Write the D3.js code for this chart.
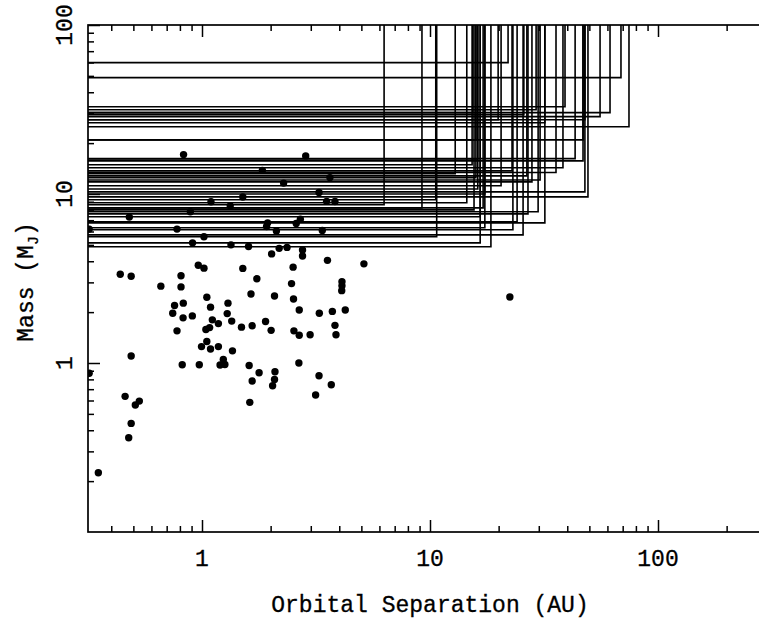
<!DOCTYPE html>
<html>
<head>
<meta charset="utf-8">
<script src="https://cdn.jsdelivr.net/npm/d3@7"></script>
<style>
  body { margin: 0; background: #fff; }
  text { font-family: "Liberation Mono", monospace; fill: #000; stroke: #000; stroke-width: 0.3; }
</style>
</head>
<body>
<div id="chart"></div>
<script>
// detected planets: separation (AU) and mass (M_J)
const dotSep = [0.83, 2.85, 1.84, 2.28, 3.64, 3.26, 3.52, 3.83, 1.51, 1.095,
    1.33, 0.889, 0.48, 1.94, 1.92, 2.70, 2.59, 2.12, 3.37, 0.32,
    0.777, 1.02, 0.909, 1.34, 1.60, 2.18, 2.36, 2.02, 2.76, 2.76,
    3.55, 0.963, 1.02, 1.51, 2.51, 5.13, 0.809, 0.438, 0.489, 1.74,
    0.66, 0.809, 2.47, 4.11, 4.11, 4.10, 1.64, 2.08, 2.52, 1.05,
    0.758, 0.828, 1.30, 1.09, 0.744, 0.826, 0.907, 1.29, 2.67, 3.27,
    3.73, 4.25, 1.11, 1.35, 1.18, 1.90, 0.777, 1.04, 1.08, 1.49,
    1.66, 2.01, 2.53, 2.67, 2.98, 3.83, 3.87, 1.05, 0.995, 1.09,
    1.18, 1.36, 1.24, 1.20, 1.26, 0.819, 0.973, 1.61, 1.78, 2.09,
    2.08, 2.04, 1.66, 2.66, 3.26, 3.69, 3.15, 1.62, 0.32, 0.489,
    0.46, 0.51, 0.531, 0.489, 0.477, 0.351, 22.4];
const dotMass = [17.1, 16.8, 13.8, 11.6, 12.5, 10.2, 9.05, 9.03, 9.59, 8.99,
    8.51, 7.85, 7.30, 6.75, 6.42, 7.10, 6.69, 6.05, 6.08, 6.2,
    6.2, 5.58, 5.14, 5.0, 4.89, 4.77, 4.83, 4.42, 4.67, 4.30,
    4.05, 3.79, 3.64, 3.63, 3.69, 3.86, 3.28, 3.35, 3.26, 3.15,
    2.85, 2.82, 2.95, 3.03, 2.86, 2.68, 2.56, 2.49, 2.39, 2.45,
    2.19, 2.26, 2.26, 2.14, 1.97, 1.85, 1.90, 1.96, 2.06, 1.97,
    2.02, 2.06, 1.80, 1.77, 1.71, 1.76, 1.55, 1.58, 1.62, 1.63,
    1.66, 1.56, 1.55, 1.46, 1.47, 1.67, 1.47, 1.34, 1.25, 1.21,
    1.25, 1.18, 1.05, 0.973, 0.98, 0.977, 0.977, 0.966, 0.876, 0.888,
    0.80, 0.734, 0.782, 1.0, 0.841, 0.744, 0.646, 0.585, 0.869, 1.10,
    0.635, 0.564, 0.595, 0.439, 0.361, 0.224, 2.46];

// exclusion limits: corner (separation, mass) of each excluded region
const limSep = [22.0, 68.8, 39.1, 29.2, 61.6, 55.7, 25.8, 47.8, 74.6, 31.9,
    46.9, 46.9, 43.3, 12.9, 35.7, 28.0, 38.3, 22.9, 26.6, 15.9,
    30.4, 47.8, 49.3, 20.5, 16.2, 17.4, 6.29, 9.22, 14.5, 10.6,
    29.8, 31.9, 17.1, 16.6, 24.1, 17.4, 25.6, 10.7, 16.6, 18.5,
    15.6, 26.9, 23.1, 15.3, 16.2, 19.9, 15.4, 15.9];
const limMass = [59.9, 48.8, 32.8, 31.5, 30.3, 28.7, 29.5, 27.5, 25.0, 26.4,
    20.9, 15.7, 16.2, 13.2, 13.4, 11.8, 14.3, 13.7, 12.8, 12.5,
    12.1, 10.3, 9.62, 11.2, 10.7, 10.0, 8.63, 8.28, 8.87, 9.24,
    7.85, 6.75, 8.28, 7.33, 6.85, 6.31, 5.73, 5.58, 5.14, 4.87,
    8.06, 7.63, 6.14, 14.9, 15.9, 27.5, 30.3, 20.9];

const xLabels = [1, 10, 100];
const yLabels = [1, 10, 100];

const W = 759, H = 622;
const margin = {left: 88, top: 25, right: 772, bottom: 532};

let svg = d3.select("#chart").append("svg")
    .attr("width", W)
    .attr("height", H);

let x = d3.scaleLog()
    .domain([Math.pow(10, -0.5), Math.pow(10, 2.5)])
    .range([margin.left, margin.right]);
let y = d3.scaleLog()
    .domain([0.1, 100])
    .range([margin.bottom, margin.top]);

// 2..9 of every decade
function minors(lo, hi) {
    let out = [];
    for (let e = lo; e <= hi; e++) {
        for (let k = 2; k <= 9; k++) {
            let v = k * Math.pow(10, e);
            out.push(+v.toPrecision(3));
        }
    }
    return out;
}
let xMinor = minors(-1, 2).filter(v => v > x.domain()[0] && v < x.domain()[1]);
let yMinor = minors(-1, 1);

svg.append("clipPath").attr("id", "plotclip")
    .append("rect")
    .attr("x", margin.left).attr("y", margin.top)
    .attr("width", margin.right - margin.left)
    .attr("height", margin.bottom - margin.top);

// limit boxes
let plot = svg.append("g").attr("clip-path", "url(#plotclip)");
plot.selectAll("path.lim").data(limSep).enter()
    .append("path")
    .attr("class", "lim")
    .attr("d", (d, i) => "M" + x.range()[0] + "," + y(limMass[i]) +
        "H" + x(d) + "V" + y.range()[1])
    .attr("fill", "none")
    .attr("stroke", "#000")
    .attr("stroke-width", 1.6);

// detections
plot.selectAll("circle").data(dotSep).enter()
    .append("circle")
    .attr("cx", d => x(d))
    .attr("cy", (d, i) => y(dotMass[i]))
    .attr("r", 3.7)
    .attr("fill", "#000");

// axes: major and minor ticks, pointing inward on every side
function addAxis(axis, tx, ty, vals, size) {
    let g = svg.append("g")
        .attr("transform", "translate(" + tx + "," + ty + ")")
        .call(axis.tickValues(vals).tickSizeInner(size).tickSizeOuter(0).tickFormat(""));
    g.select(".domain").remove();
    g.selectAll("line").attr("stroke", "#000").attr("stroke-width", 1.5);
    return g;
}
addAxis(d3.axisBottom(x), 0, margin.bottom, xLabels, -12);
addAxis(d3.axisBottom(x), 0, margin.bottom, xMinor, -6);
addAxis(d3.axisTop(x), 0, margin.top, xLabels, -12);
addAxis(d3.axisTop(x), 0, margin.top, xMinor, -6);
addAxis(d3.axisLeft(y), margin.left, 0, yLabels, -12);
addAxis(d3.axisLeft(y), margin.left, 0, yMinor, -6);
addAxis(d3.axisRight(y), margin.right, 0, yLabels, -12);
addAxis(d3.axisRight(y), margin.right, 0, yMinor, -6);

svg.append("rect")
    .attr("x", margin.left).attr("y", margin.top)
    .attr("width", margin.right - margin.left)
    .attr("height", margin.bottom - margin.top)
    .attr("fill", "none")
    .attr("stroke", "#000")
    .attr("stroke-width", 1.7);

// tick labels
svg.selectAll("text.xl").data(xLabels).enter()
    .append("text")
    .attr("class", "xl")
    .attr("x", d => x(d))
    .attr("y", 566)
    .attr("text-anchor", "middle")
    .attr("font-size", 23)
    .text(d => d);

svg.selectAll("text.yl").data(yLabels).enter()
    .append("text")
    .attr("class", "yl")
    .attr("transform", d => "translate(72," + y(d) + ") rotate(-90)")
    .attr("text-anchor", "middle")
    .attr("font-size", 23)
    .text(d => d);

// axis titles
svg.append("text")
    .attr("x", 430)
    .attr("y", 612)
    .attr("text-anchor", "middle")
    .attr("font-size", 23)
    .text("Orbital Separation (AU)");

let yt = svg.append("text")
    .attr("transform", "translate(33,282) rotate(-90)")
    .attr("text-anchor", "middle")
    .attr("font-size", 23);
yt.append("tspan").text("Mass (M");
yt.append("tspan").attr("font-size", 15).attr("dy", 5).text("J");
yt.append("tspan").attr("dy", -5).text(")");
</script>
</body>
</html>
